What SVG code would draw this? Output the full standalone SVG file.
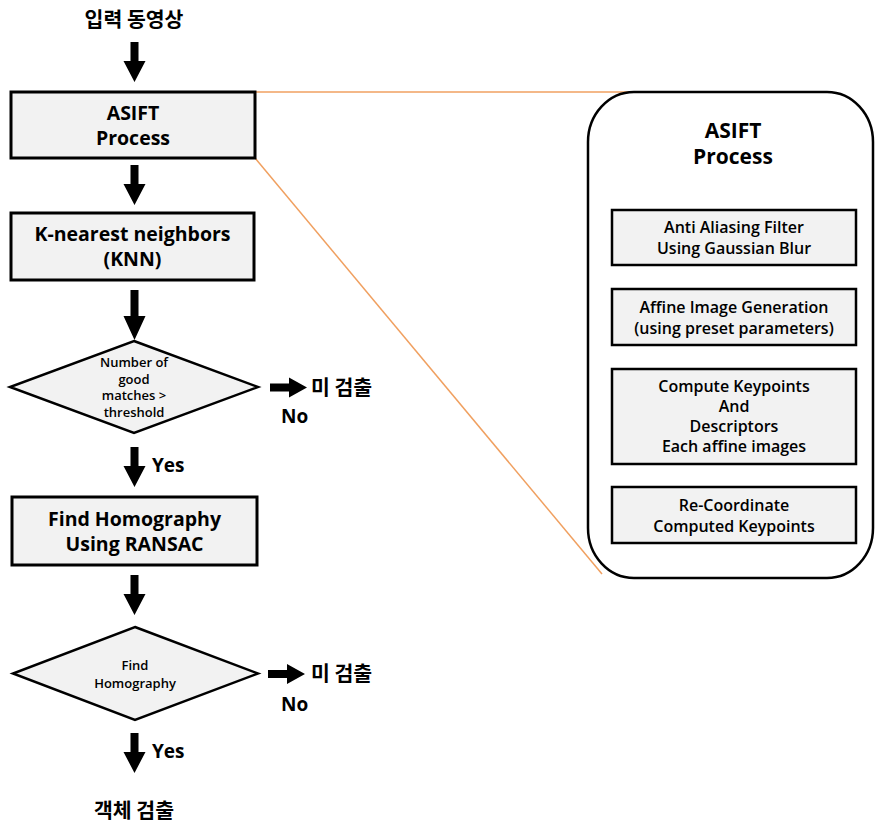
<svg xmlns="http://www.w3.org/2000/svg" width="875" height="827" viewBox="0 0 875 827">
  <defs>
    <style>
      .box { fill: #f2f2f2; stroke: #000; stroke-width: 3; }
      .dia { fill: #f2f2f2; stroke: #000; stroke-width: 2.5; }
      .sub { fill: #f2f2f2; stroke: #000; stroke-width: 2.5; }
      .t { font-family: "Open Sans", "Noto Sans CJK KR", sans-serif; fill: #000; text-anchor: middle; }
      .main { font-size: 19.5px; font-weight: bold; }
      .title { font-size: 21px; font-weight: bold; }
      .small { font-size: 13px; font-weight: 600; }
      .step { font-size: 16px; font-weight: 600; }
      .kr { font-family: "Noto Sans CJK KR", sans-serif; font-size: 20.5px; font-weight: bold; fill: #000; }
      .lbl { font-family: "Open Sans", "Noto Sans CJK KR", sans-serif; font-size: 19px; font-weight: bold; fill: #000; }
      .zoom { stroke: #f0a060; stroke-width: 1.5; fill: none; }
      .frame { fill: #fff; stroke: #000; stroke-width: 2.5; }
    </style>
    <!-- block arrow pointing down, origin at the tip -->
    <path id="down" d="M-4,-40 H4 V-21 H11 L0,0 L-11,-21 H-4 Z" fill="#000"/>
    <path id="down-long" d="M-4,-50 H4 V-24 H11 L0,0 L-11,-24 H-4 Z" fill="#000"/>
    <!-- block arrow pointing right, origin at the tip -->
    <path id="right" d="M-37,-4 V4 H-18 V10 L0,0 L-18,-10 V-4 Z" fill="#000"/>
  </defs>

  <g id="connectors">
    <!-- zoom-out lines from the ASIFT step to its detail panel -->
    <line class="zoom" x1="255" y1="92" x2="632" y2="92"/>
    <line class="zoom" x1="255" y1="158" x2="602" y2="574"/>
    <use href="#down" x="134.5" y="82"/>
    <use href="#down" x="134.5" y="205"/>
    <use href="#down-long" x="134.5" y="340"/>
    <use href="#down" x="134.5" y="487"/>
    <use href="#down" x="134.5" y="615"/>
    <use href="#down" x="134.5" y="773"/>
    <use href="#right" x="307" y="387.5"/>
    <use href="#right" x="305" y="674"/>
  </g>

  <g id="input">
    <text class="kr" x="134" y="27" text-anchor="middle">입력 동영상</text>
  </g>

  <g id="asift">
    <rect class="box" x="11" y="92" width="244" height="66"/>
    <text class="t main" x="133" y="119.5">ASIFT</text>
    <text class="t main" x="133" y="144.5">Process</text>
  </g>

  <g id="knn">
    <rect class="box" x="11" y="213" width="243" height="67"/>
    <text class="t main" x="132.5" y="241">K-nearest neighbors</text>
    <text class="t main" x="132.5" y="266">(KNN)</text>
  </g>

  <g id="match-check">
    <polygon class="dia" points="134,341 258,387 134,433 10,387"/>
    <text class="t small" x="134" y="367">Number of</text>
    <text class="t small" x="134" y="383.5">good</text>
    <text class="t small" x="134" y="400">matches &gt;</text>
    <text class="t small" x="134" y="416.5">threshold</text>
  </g>

  <g id="miss1">
    <text class="kr" x="311" y="395">미 검출</text>
    <text class="lbl" x="281" y="423">No</text>
  </g>
  <text class="lbl" x="152" y="472">Yes</text>

  <g id="homography">
    <rect class="box" x="12" y="497" width="245" height="68"/>
    <text class="t main" x="134.5" y="525.5">Find Homography</text>
    <text class="t main" x="134.5" y="550.5">Using RANSAC</text>
  </g>

  <g id="homography-check">
    <polygon class="dia" points="135,627 258,673.5 135,720 13,673.5"/>
    <text class="t small" x="135" y="669.5">Find</text>
    <text class="t small" x="135" y="687.5">Homography</text>
  </g>

  <g id="miss2">
    <text class="kr" x="311" y="681">미 검출</text>
    <text class="lbl" x="281" y="711">No</text>
  </g>
  <text class="lbl" x="152" y="758">Yes</text>

  <g id="output">
    <text class="kr" x="134" y="818" text-anchor="middle">객체 검출</text>
  </g>

  <!-- detail panel: stages inside ASIFT -->
  <g id="asift-detail">
    <rect class="frame" x="588" y="92" width="285" height="486" rx="46" ry="50"/>
    <text class="t title" x="733" y="138">ASIFT</text>
    <text class="t title" x="733" y="164">Process</text>
  </g>

  <g id="anti-alias">
    <rect class="sub" x="612" y="210" width="244" height="55"/>
    <text class="t step" x="734" y="233">Anti Aliasing Filter</text>
    <text class="t step" x="734" y="254">Using Gaussian Blur</text>
  </g>

  <g id="affine-gen">
    <rect class="sub" x="612" y="289" width="244" height="56"/>
    <text class="t step" x="734" y="312.5">Affine Image Generation</text>
    <text class="t step" x="734" y="333.5">(using preset parameters)</text>
  </g>

  <g id="keypoints">
    <rect class="sub" x="612" y="369" width="244" height="95"/>
    <text class="t step" x="734" y="392">Compute Keypoints</text>
    <text class="t step" x="734" y="412">And</text>
    <text class="t step" x="734" y="432">Descriptors</text>
    <text class="t step" x="734" y="452">Each affine images</text>
  </g>

  <g id="recoord">
    <rect class="sub" x="612" y="487" width="244" height="56"/>
    <text class="t step" x="734" y="511">Re-Coordinate</text>
    <text class="t step" x="734" y="531.5">Computed Keypoints</text>
  </g>
</svg>
